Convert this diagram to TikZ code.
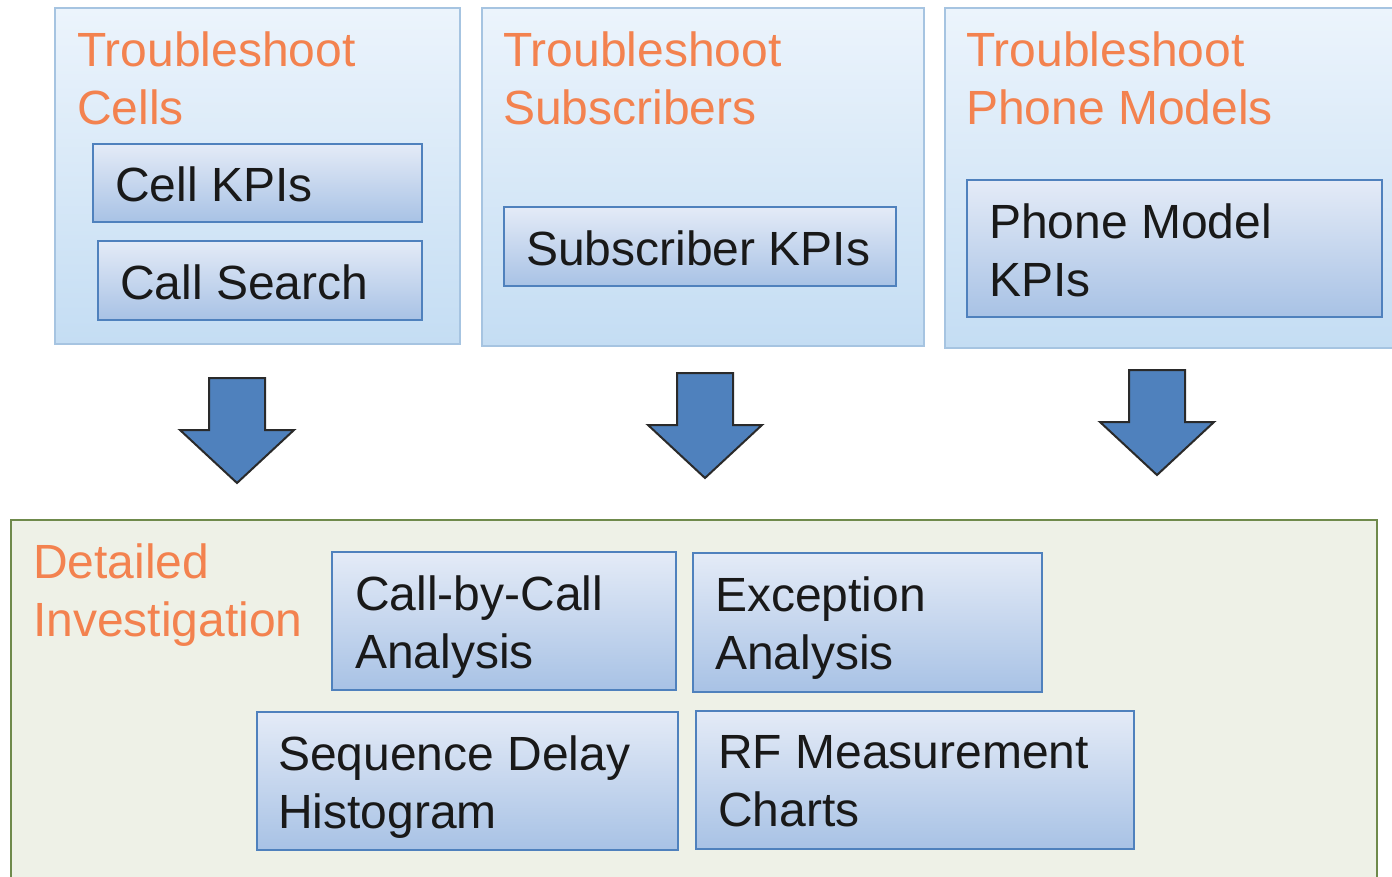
\documentclass[tikz,border=0pt]{standalone}
\usepackage{fontspec}
\setmainfont{Liberation Sans}
\definecolor{titleorange}{HTML}{F3824F}
\definecolor{boxblue}{HTML}{4F81BD}
\definecolor{innertop}{HTML}{E4EBF7}
\definecolor{innerbot}{HTML}{A8C2E5}
\definecolor{outertop}{HTML}{ECF4FC}
\definecolor{outerbot}{HTML}{C4DDF3}
\definecolor{outerline}{HTML}{A6C4E1}
\definecolor{panelfill}{HTML}{EEF1E7}
\definecolor{panelline}{HTML}{6F8A4C}
\definecolor{arrowline}{HTML}{2A2A2A}
\begin{document}
\begin{tikzpicture}[x=1pt,y=-1pt,
  outerbox/.style={draw=outerline, line width=2pt, top color=outertop, bottom color=outerbot,
    rectangle, anchor=north west, inner sep=0pt, outer sep=0pt},
  innerbox/.style={draw=boxblue, line width=2pt, top color=innertop, bottom color=innerbot,
    rectangle, anchor=north west, inner sep=0pt, outer sep=0pt},
  panel/.style={draw=panelline, line width=2pt, fill=panelfill,
    rectangle, anchor=north west, inner sep=0pt, outer sep=0pt},
  % the base anchor of a multi-line node sits on its last line
  title/.style={text=titleorange, font=\fontsize{48}{58}\selectfont, align=left,
    anchor=base west, inner sep=0pt},
  label/.style={text=black!90, font=\fontsize{48}{58}\selectfont, align=left,
    anchor=base west, inner sep=0pt},
  blockarrow/.style={fill=boxblue, draw=arrowline, line width=2pt, line join=miter}
]
\useasboundingbox (0,0) rectangle (1392,876);

% top row: three troubleshooting panels
\node[outerbox, minimum width=405pt, minimum height=336pt] (cells) at (55,8) {};
\node[outerbox, minimum width=442pt, minimum height=338pt] (subs) at (482,8) {};
\node[outerbox, minimum width=460pt, minimum height=340pt] (phones) at (945,8) {};

\node[title] (cellsT) at (77,124) {Troubleshoot\\Cells};
\node[title] (subsT) at (503,124) {Troubleshoot\\Subscribers};
\node[title] (phonesT) at (966,124) {Troubleshoot\\Phone Models};

\node[innerbox, minimum width=329pt, minimum height=78pt] (cellkpi) at (93,144) {};
\node[innerbox, minimum width=324pt, minimum height=79pt] (callsearch) at (98,241) {};
\node[innerbox, minimum width=392pt, minimum height=79pt] (subkpi) at (504,207) {};
\node[innerbox, minimum width=415pt, minimum height=137pt] (phonekpi) at (967,180) {};

\node[label] (cellkpiT) at (115,201) {Cell KPIs};
\node[label] (callsearchT) at (120,299) {Call Search};
\node[label] (subkpiT) at (526,265) {Subscriber KPIs};
\node[label] (phonekpiT) at (989,296) {Phone Model\\KPIs};

% block arrows leading down to the investigation panel
\coordinate (a1) at (237,378);
\coordinate (a2) at (705,373);
\coordinate (a3) at (1157,370);
\foreach \c in {a1,a2,a3}{
  \draw[blockarrow] (\c) ++(-28,0) -- ++(56,0) -- ++(0,52) -- ++(29,0)
    -- ++(-57,53) -- ++(-57,-53) -- ++(29,0) -- cycle;
}

% bottom panel: detailed investigation
\node[panel, minimum width=1366pt, minimum height=380pt] (detail) at (11,520) {};
\node[title] (detailT) at (33,636) {Detailed\\Investigation};

\node[innerbox, minimum width=344pt, minimum height=138pt] (cbc) at (332,552) {};
\node[innerbox, minimum width=349pt, minimum height=139pt] (exc) at (693,553) {};
\node[innerbox, minimum width=421pt, minimum height=138pt] (seq) at (257,712) {};
\node[innerbox, minimum width=438pt, minimum height=138pt] (rf) at (696,711) {};

\node[label] (cbcT) at (355,668) {Call-by-Call\\Analysis};
\node[label] (excT) at (715,669) {Exception\\Analysis};
\node[label] (seqT) at (278,828) {Sequence Delay\\Histogram};
\node[label] (rfT) at (718,826) {RF Measurement\\Charts};
\end{tikzpicture}
\end{document}
